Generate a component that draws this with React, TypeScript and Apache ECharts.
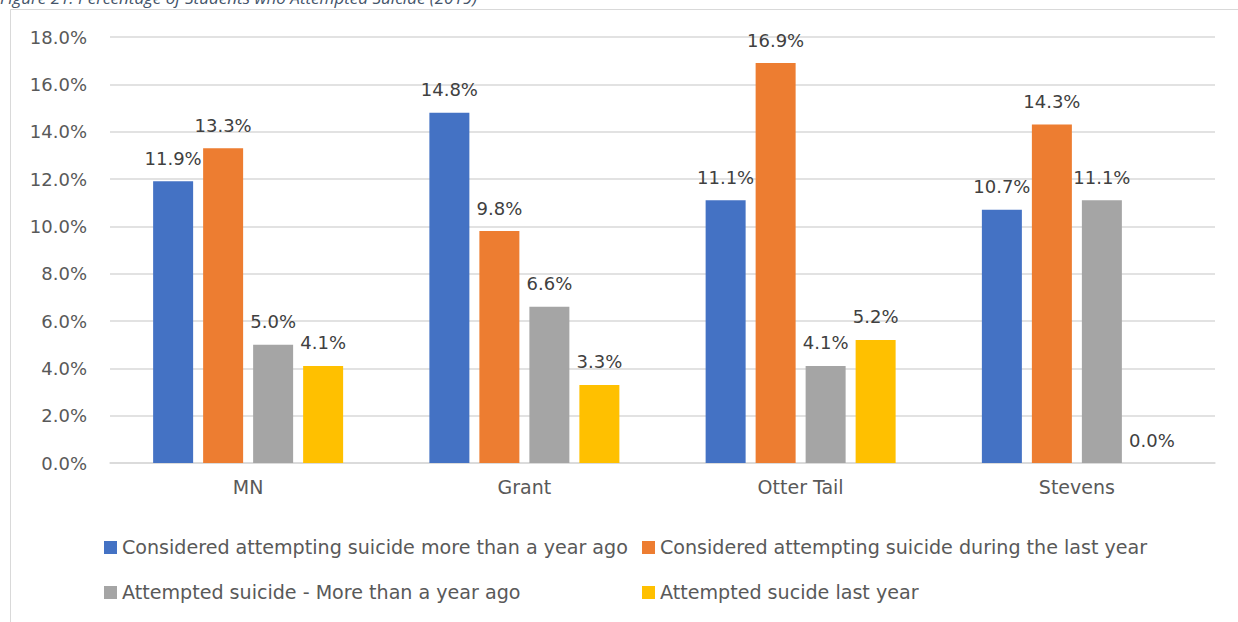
import React, { useEffect, useRef } from "react";
import * as echarts from "echarts";

const categories = ["MN", "Grant", "Otter Tail", "Stevens"];
const seriesNames = [
  "Considered attempting suicide more than a year ago",
  "Considered attempting suicide during the last year",
  "Attempted suicide - More than a year ago",
  "Attempted sucide last year",
];
const consideredMoreThanYear = [11.9, 14.8, 11.1, 10.7];
const consideredLastYear = [13.3, 9.8, 16.9, 14.3];
const attemptedMoreThanYear = [5.0, 6.6, 4.1, 11.1];
const attemptedLastYear = [4.1, 3.3, 5.2, 0.0];
const colors = ["#4472C4", "#ED7D31", "#A5A5A5", "#FFC000"];
const titleText = "Figure 21: Percentage of Students who Attempted Suicide (2019)";

const FONT = "'DejaVu Sans', sans-serif";
const TITLE_FONT = "'Open Sans', sans-serif";

export default function App() {
  const ref = useRef<HTMLDivElement>(null);
  useEffect(() => {
    if (!ref.current) return;
    const chart = echarts.init(ref.current, null, { renderer: "svg" });
    const values = [consideredMoreThanYear, consideredLastYear, attemptedMoreThanYear, attemptedLastYear];
    const legendPos = [
      { left: 99, top: 533 },
      { left: 637, top: 533 },
      { left: 99, top: 578 },
      { left: 637, top: 578 },
    ];
    chart.setOption({
      animation: false,
      textStyle: { fontFamily: FONT },
      graphic: [
        {
          type: "rect",
          shape: { x: 10.5, y: 9.5, width: 1400, height: 800 },
          style: { fill: "none", stroke: "#D9D9D9", lineWidth: 1 },
          z: -10,
        },
        {
          type: "text",
          x: 0,
          y: -11,
          style: {
            text: titleText,
            fill: "#44546A",
            font: `italic 17px ${TITLE_FONT}`,
          },
        },
      ],
      legend: legendPos.map((p, i) => ({
        data: [seriesNames[i]],
        left: p.left,
        top: p.top,
        itemWidth: 13,
        itemHeight: 13,
        icon: "rect",
        textStyle: { color: "#595959", fontSize: 19.1, fontFamily: FONT },
      })),
      grid: { left: 110, right: 23, top: 37, bottom: 159, containLabel: false },
      xAxis: {
        type: "category",
        data: categories,
        axisLine: { lineStyle: { color: "#D9D9D9", width: 1.5 } },
        axisTick: { show: false },
        axisLabel: { color: "#595959", fontSize: 19, margin: 14 },
      },
      yAxis: {
        type: "value",
        min: 0,
        max: 18,
        interval: 2,
        axisLine: { show: false },
        axisTick: { show: false },
        splitLine: { lineStyle: { color: "#D9D9D9", width: 1.5 } },
        axisLabel: {
          color: "#595959",
          fontSize: 18,
          margin: 23,
          formatter: (v: number) => `${v.toFixed(1)}%`,
        },
      },
      series: values.map((d, i) => ({
        name: seriesNames[i],
        type: "bar",
        data: d,
        barWidth: 40,
        barGap: "25%",
        itemStyle: { color: colors[i] },
        label: {
          show: true,
          position: "top",
          distance: 14,
          color: "#404040",
          fontSize: 18,
          formatter: (p: any) => `${Number(p.value).toFixed(1)}%`,
        },
      })),
    });
    return () => chart.dispose();
  }, []);
  return (
    <div
      ref={ref}
      style={{ position: "absolute", left: 0, top: 0, width: 1238, height: 622, background: "#fff" }}
    />
  );
}
